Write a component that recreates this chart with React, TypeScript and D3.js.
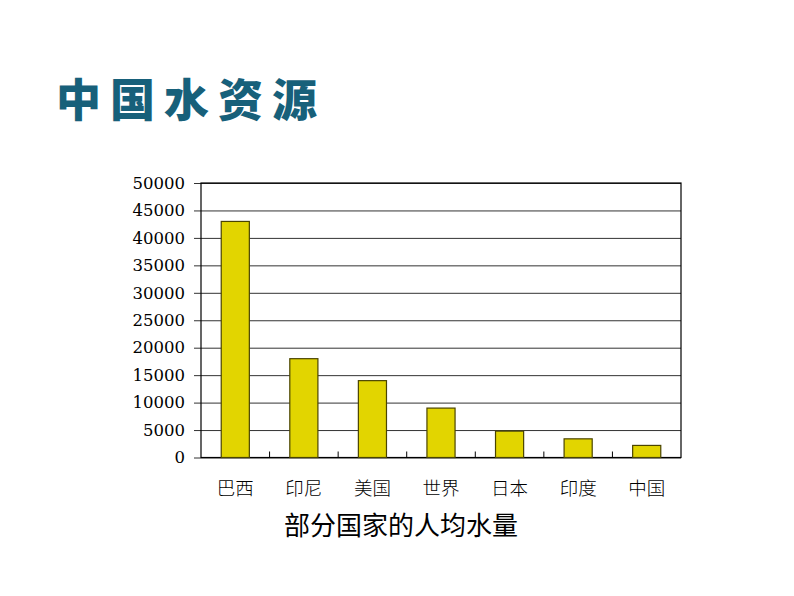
// D3.js — 中国水资源 bar chart (per-capita water by country)
import React, { useEffect, useRef } from "react";
import * as d3 from "d3";

const countries = ["巴西", "印尼", "美国", "世界", "日本", "印度", "中国"];
const waterPerCapita = [43000, 18000, 14000, 9000, 4800, 3400, 2200];
const yTicks = [0, 5000, 10000, 15000, 20000, 25000, 30000, 35000, 40000, 45000, 50000];

const App: React.FC = () => {
  const svgRef = useRef<SVGSVGElement>(null);

  useEffect(() => {
    if (!svgRef.current) return;

    const W = 794, H = 596;
    const plot = { left: 201, right: 681, top: 183, bottom: 457.5 };

    const root = d3.select(svgRef.current);
    root.selectAll("*").remove();
    root.attr("width", W).attr("height", H);

    root.append("rect").attr("width", W).attr("height", H).attr("fill", "#ffffff");

    // Title
    root.append("text")
      .attr("x", 56).attr("y", 117)
      .attr("font-family", "'Noto Sans CJK SC', sans-serif")
      .attr("font-weight", 900)
      .attr("font-size", 45)
      .attr("letter-spacing", 9)
      .attr("fill", "#17607a")
      .text("中国水资源");

    const x = d3.scaleBand()
      .domain(countries)
      .range([plot.left, plot.right])
      .paddingInner(0.59)
      .paddingOuter(0.295);

    const y = d3.scaleLinear()
      .domain([0, 50000])
      .range([plot.bottom, plot.top]);

    // Grid lines + y ticks (outward)
    const g = root.append("g").attr("transform", `translate(${plot.left},0)`);
    g.call(d3.axisLeft(y).tickValues(yTicks).tickSize(-(plot.right - plot.left)).tickSizeOuter(0).tickPadding(16).tickFormat(d => `${d}`))
      .call(s => s.select(".domain").remove())
      .call(s => s.selectAll(".tick line").attr("stroke", "#333").attr("stroke-width", 1).attr("x1", -7))
      .call(s => s.selectAll(".tick text")
        .attr("fill", "#000")
        .style("font-family", "'DejaVu Serif', 'Liberation Serif', serif")
        .style("font-size", "16.5px"));

    // Frame
    root.append("rect")
      .attr("x", plot.left).attr("y", plot.top)
      .attr("width", plot.right - plot.left)
      .attr("height", plot.bottom - plot.top)
      .attr("fill", "none")
      .attr("stroke", "#000")
      .attr("stroke-width", 1.2);

    // Category separators (inner ticks on x axis)
    const seps = countries.slice(1).map((_, i) => plot.left + (i + 1) * (plot.right - plot.left) / countries.length);
    root.append("g").selectAll("line")
      .data(seps)
      .join("line")
      .attr("x1", d => d).attr("x2", d => d)
      .attr("y1", plot.bottom).attr("y2", plot.bottom - 6)
      .attr("stroke", "#000");

    // Bars
    root.append("g").selectAll("rect")
      .data(waterPerCapita)
      .join("rect")
      .attr("x", (_, i) => x(countries[i])!)
      .attr("y", d => y(d))
      .attr("width", x.bandwidth())
      .attr("height", d => y(0) - y(d))
      .attr("fill", "#e2d500")
      .attr("stroke", "#4a4400")
      .attr("stroke-width", 1.2);

    // Category labels
    root.append("g").selectAll("text")
      .data(countries)
      .join("text")
      .attr("x", d => x(d)! + x.bandwidth() / 2)
      .attr("y", 495)
      .attr("text-anchor", "middle")
      .attr("font-family", "'Noto Sans CJK SC', sans-serif")
      .attr("font-weight", 300)
      .attr("font-size", 18.5)
      .attr("fill", "#000")
      .text(d => d);

    // Axis caption
    root.append("text")
      .attr("x", 401).attr("y", 535)
      .attr("text-anchor", "middle")
      .attr("font-family", "'Noto Sans CJK SC', sans-serif")
      .attr("font-size", 26)
      .attr("fill", "#000")
      .text("部分国家的人均水量");
  }, []);

  return <svg ref={svgRef} style={{ position: "absolute", left: 0, top: 0 }} />;
};

export default App;
